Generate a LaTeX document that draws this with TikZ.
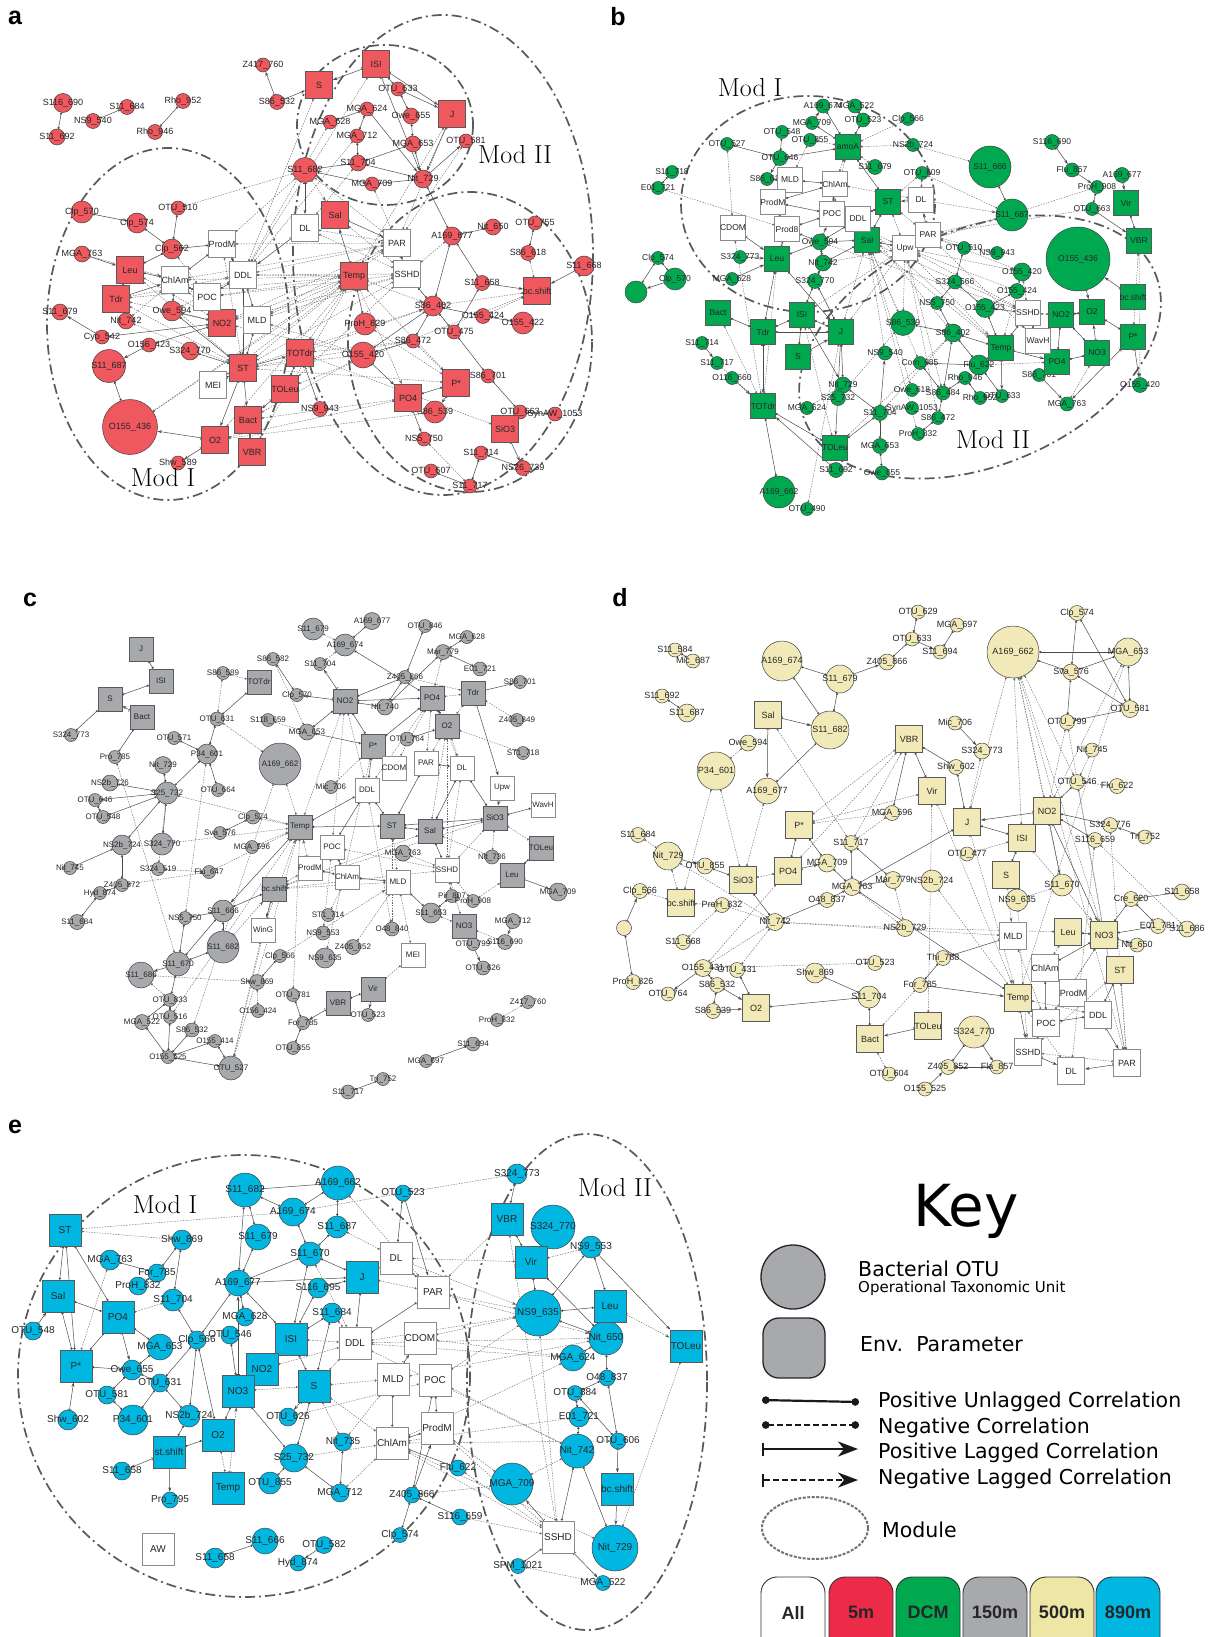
\documentclass[tikz,border=0pt]{standalone}
\usepackage{fontspec}
\usetikzlibrary{arrows.meta}
\newfontfamily\lblfont{Liberation Sans}
\newfontfamily\keyfont{DejaVu Sans}
\definecolor{redN}{RGB}{238,88,94}
\definecolor{redK}{RGB}{236,43,72}
\definecolor{grnN}{RGB}{0,168,80}
\definecolor{grayN}{RGB}{167,169,172}
\definecolor{ylwN}{RGB}{241,234,184}
\definecolor{ylwK}{RGB}{238,230,164}
\definecolor{cynN}{RGB}{0,183,226}
\pgfdeclarelayer{paper}
\pgfdeclarelayer{background}
\pgfsetlayers{paper,background,main}
\tikzset{
  otu/.style={circle, draw=black!75, line width=.5pt, fill=\pcol, inner sep=0pt, minimum size=#1},
  otu/.default=18,
  env/.style={rectangle, draw=black!65, line width=.7pt, fill=\pcol, inner sep=0pt, minimum size=\esz},
  envw/.style={rectangle, draw=black!45, line width=.9pt, fill=white, inner sep=0pt, minimum size=\esz},
  unlag/.style={draw=black!70, line width=.5pt, {Circle[length=2.2pt]}-{Circle[length=2.2pt]}},
  neglink/.style={draw=black!60, line width=.4pt, dash pattern=on 1.5pt off 1.2pt, {Circle[length=2pt]}-{Circle[length=2pt]}},
  poslag/.style={draw=black!70, line width=.5pt, {Bar[width=4pt]}-{Stealth[length=4.5pt,width=3pt]}},
  neglag/.style={draw=black!60, line width=.4pt, dash pattern=on 1.5pt off 1.2pt, {Bar[width=4pt]}-{Stealth[length=4.5pt,width=3pt]}},
  modring/.style={draw=black!65, line width=1.7pt, dash pattern=on 10pt off 4pt on 2pt off 4pt},
  modlbl/.style={font=\fontsize{26}{26}\selectfont, inner sep=0pt},
  panel/.style={font=\lblfont\bfseries\fontsize{25}{25}\selectfont, inner sep=0pt},
  keytxt/.style={font=\keyfont\fontsize{20.5}{20.5}\selectfont, anchor=base west, inner sep=0pt},
  keyline/.style={draw=black!90, line width=2.2pt},
  depthbox/.style={draw=black!80, line width=.9pt, rounded corners=16pt, minimum width=64, minimum height=80, inner sep=0pt},
}
\begin{document}
\catcode`\_=12
\begin{tikzpicture}[x=1pt,y=-1pt]
\useasboundingbox (0,0) rectangle (1208,1637);
\begin{pgfonlayer}{paper}
  \fill[white] (0,0) rectangle (1208,1637);
\end{pgfonlayer}

% ---------------- a : 5m
\begin{scope}[every label/.style={font=\lblfont\fontsize{9}{9}\selectfont, text=black!85, inner sep=0pt}]
\def\pcol{redN}\def\esz{27}
\node[panel] (alet) at (15,18) {a};
\foreach \n/\x/\y/\s in {Z417_760/263/65/14, S86_532/277/102/15, S116_690/63/103/19, S11_684/127/107/15,
  NS9_540/93/121/15, S11_692/57/137/16, Rho_952/183/101/15, Rho_946/155/132/15, Clp_570/82/212/22,
  Clp_574/137/223/20, OTU_510/178/208/14, Clp_562/172/249/20, MGA_763/82/254/16, S11_679/60/312/16,
  Owe_594/172/311/20, Nit_742/126/321/16, Cyo_542/102/337/14, O156_423/149/345/14, S324_770/190/351/18,
  Shw_589/178/463/14, NS9_943/320/409/15, OTU_633/398/89/14, MGA_624/367/109/14, Owe_655/411/116/16,
  MGA_628/330/122/14, MGA_712/357/136/14, MGA_653/413/144/16, OTU_581/466/141/14, S11_704/358/163/16,
  Nit_729/423/179/18, MGA_709/372/184/14, A169_677/452/236/18, Nit_650/493/227/16, OTU_755/535/223/14,
  S86_618/528/253/15, S11_668/584/266/20, S11_658/482/283/15, S86_402/433/306/20, O155_424/483/316/15,
  O155_422/523/323/22, ProH_829/365/324/22, OTU_475/454/332/14, S86_472/413/341/14, S86_701/488/376/14,
  S86_539/435/412/22, OTU_663/520/412/14, SynAW_1053/555/414/14, NS5_750/424/439/14, S11_714/481/453/14,
  NS26_739/523/468/15, OTU_607/431/471/14, S11_717/470/486/14, S11_682/305/170/25, S11_687/109/366/33,
  O155_436/130/427/55, O155_420/363/355/26}
  \node[otu=\s, label={center:\n}] (a\n) at (\x,\y) {};
\foreach \n/\x/\y in {S/319/85, ISI/376/64, J/452/114, Sal/335/215, Leu/130/270, Tdr/116/299, NO2/222/323,
  ST/243/368, TOTdr/300/353, TOLeu/285/389, Bact/248/420, O2/215/440, VBR/252/452, Temp/354/276,
  P*/456/383, PO4/408/398, SiO3/505/429}
  \node[env, label={center:\n}] (a\n) at (\x,\y) {};
\node[env, label={center:bc.shift}] (abcshift) at (537,291) {};
\foreach \n/\x/\y in {ProdM/222/244, ChlAm/175/280, DDL/243/275, POC/207/297, DL/305/228, MLD/257/320,
  MEI/213/385, PAR/397/243, SSHD/407/274}
  \node[envw, label={center:\n}] (a\n) at (\x,\y) {};
\node[modlbl] (amod1) at (163,478) {Mod I};
\node[modlbl] (amod2) at (515,155) {Mod II};
\begin{pgfonlayer}{background}
\draw[modring] (168,324) ellipse [x radius=121, y radius=176];
\draw[modring] (385,125) ellipse [x radius=88, y radius=80];
\draw[modring] (470,342) ellipse [x radius=122, y radius=150];
\draw[modring] (443,255) ellipse [x radius=150, y radius=240];
\foreach \u/\v in {S116_690/S11_692, S11_684/NS9_540, Rho_952/Rho_946, Clp_570/Clp_574, Clp_574/Clp_562,
  OTU_510/Clp_562, Leu/Tdr, Leu/Clp_562, Clp_562/ProdM, ChlAm/ProdM, ProdM/DDL, ChlAm/POC, POC/DDL,
  Owe_594/ChlAm, Owe_594/NO2, O156_423/NO2, Cyo_542/NO2, S324_770/ST, S11_687/O155_436, Bact/VBR,
  ISI/OTU_633, OTU_633/Owe_655, Owe_655/MGA_653, MGA_624/MGA_712, MGA_624/MGA_628, MGA_653/S11_704,
  MGA_653/Nit_729, S11_682/S11_704, S11_682/MGA_709, MGA_709/Nit_729, Nit_729/A169_677, A169_677/Nit_650,
  OTU_755/S86_618, S11_658/A169_677, S86_402/O155_424, O155_424/O155_422, OTU_475/S86_701,
  S86_701/OTU_663, OTU_663/SynAW_1053, S11_714/S11_717, S11_714/NS26_739, OTU_607/S11_717,
  S86_402/S86_472, S86_472/O155_420, S86_402/O155_420, PO4/P*, S11_658/OTU_475, S86_402/OTU_475,
  MGA_712/S11_704, S11_704/Nit_729, Temp/ProH_829, DDL/ST, MLD/ST, Owe_594/ST, TOTdr/TOLeu, Leu/ChlAm,
  DDL/MLD, SSHD/S86_402, A169_677/S86_402}
  \draw[unlag] (a\u) -- (a\v);
\foreach \u/\v in {S86_532/Z417_760, S86_532/S, ISI/S, ISI/J, OTU_633/J, MGA_624/Nit_729, J/Nit_729,
  Nit_729/OTU_581, ISI/Nit_729, S11_682/DL, MGA_763/Leu, Tdr/ChlAm, Cyo_542/S11_679, O156_423/S11_687,
  O2/O155_436, O2/Shw_589, ST/O2, ST/Bact, TOTdr/NS9_943, TOLeu/Bact, Sal/PAR, Temp/Sal,
  S11_668/bcshift, S11_658/bcshift, PO4/NS5_750, O155_420/PO4, P*/S86_539, SiO3/NS26_739, MEI/ST,
  PAR/SSHD, ST/TOTdr, DL/DDL}
  \draw[poslag] (a\u) -- (a\v);
\foreach \u/\v in {OTU_510/S11_682, DDL/Temp, POC/Temp, ChlAm/PAR, NO2/Temp, ST/Temp, MLD/PAR, MLD/SSHD,
  TOLeu/SSHD, TOTdr/Temp, ST/O155_420, Bact/PO4, O2/PO4, NO2/SSHD, MLD/Temp, ProdM/PAR, S/DDL, ISI/DDL,
  J/Temp, ST/P*, TOTdr/S86_472, Tdr/Temp, O155_436/PAR, O155_436/Temp, MGA_628/DDL, DL/PAR, NO2/PAR,
  ChlAm/Temp, TOLeu/bcshift, Bact/O155_420, TOTdr/SiO3, O2/S86_539, POC/SSHD, DDL/SSHD, ST/SSHD,
  Leu/NO2, Tdr/NO2, Owe_594/DDL, Nit_742/ChlAm, Nit_742/ST, S11_682/ProdM, Leu/ST, ProdM/ST, O2/Temp,
  VBR/Temp, MGA_712/DDL, S11_704/DL, MGA_709/PAR, S86_618/bcshift, S86_402/bcshift, O155_424/bcshift,
  SSHD/A169_677, Temp/P*, ProH_829/P*, S86_472/P*, SSHD/OTU_475, MLD/O155_420, DDL/PAR, NO2/O155_420,
  MEI/Temp, Sal/SSHD, DL/SSHD, NS5_750/S11_717, OTU_581/PAR, J/PAR, S11_682/PAR, Tdr/ST, Clp_562/POC,
  ChlAm/NO2}
  \draw[neglink] (a\u) -- (a\v);
\foreach \u/\v in {ST/S86_402, Temp/PO4, TOTdr/S86_402, Temp/S86_402, ST/S86_472, S11_682/Sal,
  MGA_763/ChlAm, Tdr/DDL}
  \draw[neglag] (a\u) -- (a\v);
\end{pgfonlayer}
\end{scope}

% ---------------- b : DCM
\begin{scope}[every label/.style={font=\lblfont\fontsize{8.5}{8.5}\selectfont, text=black!85, inner sep=0pt}]
\def\pcol{grnN}\def\esz{25}
\node[panel] (blet) at (618,17) {b};
\foreach \n/\x/\y/\s in {A169_674/823/106/14, MGA_522/855/106/14, MGA_709/812/123/13, OTU_523/863/120/14,
  OTU_548/782/132/13, OTU_855/810/140/13, OTU_527/727/144/13, OTU_646/780/158/15, S11_718/672/172/13,
  S86_618/767/179/13, S11_679/875/167/15, E01_721/658/188/13, Owe_594/820/242/16, Clp_574/658/258/13,
  S324_773/740/257/13, Nit_742/823/263/16, Clp_570/675/279/22, MGA_628/732/279/13, S324_770/815/281/15,
  S11_714/702/343/13, NS9_540/885/353/14, S11_717/717/363/13, O116_660/732/378/13, Nit_729/843/385/16,
  S25_732/838/398/15, MGA_624/807/408/13, S11_704/880/413/15, MGA_653/880/446/15, S11_692/836/470/15,
  Owe_655/882/473/14, OTU_490/807/509/13, Clp_566/908/119/13, NS2b_724/913/145/13, S116_690/1052/142/15,
  OTU_609/922/173/13, Flu_857/1072/170/14, A169_677/1122/175/15, ProH_908/1097/187/13, OTU_663/1092/209/13,
  OTU_510/964/248/13, NS9_943/997/253/13, O155_420/1022/272/18, S324_566/955/282/14, O155_424/1017/291/15,
  NS5_750/937/303/13, O155_423/985/308/19, S86_402/953/333/18, Com_985/920/363/13, Flu_622/979/365/20,
  Rho_946/965/378/13, S86_701/1039/375/13, Owe_618/912/390/13, S86_484/943/393/14, Rho_952/980/398/13,
  OTU_633/1002/396/13, MGA_763/1067/404/14, SynAW_1053/912/408/13, S86_472/938/418/13, ProH_832/918/434/13,
  S86_539/903/323/25, A169_662/779/492/32, S11_666/990/167/42, S11_687/1012/215/32, O155_436/1078/259/64}
  \node[otu=\s, label={center:\n}] (b\n) at (\x,\y) {};
\node[otu=15, label={center:O155_420}] (bO155_420x) at (1140,385) {};
\node[otu=22] (bunl) at (636,292) {};
\foreach \n/\x/\y in {amoA/848/147, ST/888/202, Sal/867/240, Leu/777/259, Bact/718/313, ISI/802/315,
  Tdr/763/332, J/841/332, S/798/357, TOTdr/763/406, TOLeu/835/448, Vir/1126/203, VBR/1139/241,
  NO2/1061/315, O2/1092/312, P*/1133/337, Temp/1001/348, NO3/1097/353, PO4/1057/362}
  \node[env, label={center:\n}] (b\n) at (\x,\y) {};
\node[env, label={center:bc.shift}] (bbcshift) at (1133,297) {};
\foreach \n/\x/\y in {MLD/790/180, ChlAm/835/184, ProdM/773/202, POC/832/214, DDL/858/219, CDOM/733/228,
  Prod8/787/229, Upw/905/248, DL/921/200, PAR/928/235, SSHD/1028/313, WavH/1038/341}
  \node[envw, label={center:\n}] (b\n) at (\x,\y) {};
\node[modlbl] (bmod1) at (750,88) {Mod I};
\node[modlbl] (bmod2) at (993,440) {Mod II};
\begin{pgfonlayer}{background}
\draw[modring] (808,204) ellipse [x radius=127, y radius=108];
\draw[modring, rotate around={23:(980,347)}] (980,347) ellipse [x radius=190, y radius=118];
\foreach \u/\v in {A169_674/amoA, MGA_709/amoA, MGA_522/OTU_523, OTU_523/amoA, OTU_548/OTU_646,
  OTU_646/amoA, OTU_527/OTU_646, S11_718/E01_721, MLD/ChlAm, ChlAm/POC, ProdM/POC, ProdM/Prod8, POC/Prod8,
  POC/DDL, Prod8/Owe_594, Owe_594/Sal, DDL/ST, ST/Sal, Leu/Owe_594, Leu/Tdr, Nit_742/S324_770,
  S324_770/ISI, S324_770/J, ISI/J, ISI/S, Tdr/Bact, J/Nit_729, Nit_729/S25_732, TOTdr/A169_662,
  TOTdr/TOLeu, TOLeu/S11_704, S11_704/MGA_653, MGA_653/Owe_655, Clp_574/unl, Clp_574/Clp_570,
  S11_666/S11_687, ProH_908/OTU_663, Vir/VBR, O2/NO2, NO2/PO4, NO2/NO3, NO3/PO4, O2/P*, Temp/SSHD,
  Temp/S86_402, S86_402/S86_484, S86_484/S86_472, S86_472/ProH_832, Com_985/S86_484, Flu_622/S86_402,
  Rho_946/S86_484, O155_423/S324_566, O155_423/O155_424, S324_566/NS5_750, NS5_750/S86_402,
  S86_539/S86_402, S324_566/OTU_510, Flu_622/OTU_633, Rho_946/Rho_952, amoA/ST, ChlAm/ProdM, DDL/Owe_594,
  Sal/Upw, ISI/Tdr, Temp/O155_423, O155_423/SSHD, Tdr/J, Leu/J, Owe_594/Nit_742, Nit_742/Sal,
  Com_985/Flu_622, S11_704/Nit_729}
  \draw[unlag] (b\u) -- (b\v);
\foreach \u/\v in {OTU_646/S86_618, Tdr/TOTdr, ISI/Nit_729, S11_714/S11_717, O116_660/TOTdr,
  S11_692/TOTdr, Clp_570/unl, S116_690/Flu_857, Flu_857/ProH_908, A169_677/Vir, OTU_663/VBR,
  O155_436/O2, bcshift/O155_436, P*/O155_420x, P*/MGA_763, S86_701/MGA_763, Temp/OTU_633, Temp/PO4,
  CDOM/Leu, S324_773/Leu, MGA_628/Leu, J/TOLeu, S/J, PAR/DL, DL/ST, NO3/O2, Owe_594/POC,
  MGA_709/A169_674, S11_704/NS9_540}
  \draw[poslag] (b\u) -- (b\v);
\foreach \u/\v in {amoA/Clp_566, amoA/NS2b_724, amoA/POC, amoA/ChlAm, amoA/S11_679, E01_721/Prod8,
  OTU_527/CDOM, OTU_490/J, Leu/TOTdr, CDOM/TOTdr, ISI/TOLeu, NS2b_724/S11_666, OTU_609/S11_687,
  DL/OTU_609, VBR/P*, SSHD/NO2, SSHD/O155_420, Upw/O155_420, Upw/O155_424, PAR/S11_687, PAR/O155_420,
  DDL/Temp, Sal/SSHD, Sal/Temp, ST/PAR, ST/Upw, Upw/SSHD, Owe_594/SSHD, DDL/S86_402, Sal/S86_539,
  POC/Upw, ChlAm/DL, Temp/O155_420, Temp/Flu_622, PO4/Flu_622, WavH/SSHD, NO3/MGA_763, PO4/S86_701,
  Upw/J, Sal/J, S86_539/Upw, ST/OTU_609, OTU_510/PAR, NS9_943/PAR, Prod8/Leu, TOLeu/S86_402,
  S25_732/S86_539, S11_704/S86_402, Nit_742/Upw, ISI/Upw, PAR/OTU_663, Upw/ProH_908, MGA_624/Nit_729,
  Owe_618/Sal, S86_484/Upw, Com_985/DDL, ProH_832/Sal, S86_472/Upw, NS9_540/Sal, OTU_855/MLD,
  S86_618/MLD, OTU_855/amoA, Bact/TOTdr}
  \draw[neglink] (b\u) -- (b\v);
\foreach \u/\v in {S11_717/TOTdr, PAR/WavH, Upw/Temp, VBR/O155_420x, DL/S11_687}
  \draw[neglag] (b\u) -- (b\v);
\end{pgfonlayer}
\end{scope}

% ---------------- c : 150m
\begin{scope}[every label/.style={font=\lblfont\fontsize{8}{8}\selectfont, text=black!85, inner sep=0pt}]
\def\pcol{grayN}\def\esz{24}
\node[panel] (clet) at (30,600) {c};
\foreach \n/\x/\y/\s in {S324_773/71/735/13, S86_582/273/659/13, S86_589/223/673/13, Clp_570/297/695/13,
  OTU_631/217/719/14, S118_659/268/720/13, MGA_653/307/732/16, OTU_571/174/738/13, Pro_785/115/757/13,
  P34_601/207/754/20, Nit_729/163/765/17, NS2b_726/110/783/16, S25_732/167/793/22, OTU_646/95/800/13,
  OTU_664/218/790/13, OTU_548/103/817/13, Clp_574/253/817/14, Sva_576/220/833/13, NS2b_724/122/845/20,
  S324_770/162/844/22, MGA_596/252/847/13, Nit_745/70/868/13, S324_519/158/869/13, Flu_647/209/872/13,
  Z405_872/122/885/13, Hyd_874/100/893/13, S11_666/223/911/22, NS5_750/185/918/13, S11_684/77/922/15,
  Clp_566/280/956/13, S11_670/178/964/24, S11_686/141/975/26, Shw_869/257/982/15, OTU_781/293/995/13,
  OTU_833/170/1000/13, O156_424/258/1011/13, MGA_522/142/1022/15, OTU_516/170/1017/13, For_785/303/1023/13,
  S86_532/192/1030/14, O155_414/215/1041/13, OTU_855/293/1048/13, O155_525/168/1057/13, OTU_527/231/1068/24,
  S11_679/313/629/22, A169_677/372/621/17, A169_674/345/645/22, OTU_846/425/626/13, MGA_628/467/637/13,
  Mar_779/443/652/15, S11_704/320/664/13, Z405_866/405/677/13, E01_721/480/669/14, S86_701/520/682/13,
  Nit_740/385/707/16, Z405_849/517/720/13, OTU_764/407/739/14, ST1_718/523/753/13, Mic_706/331/787/13,
  MGA_763/403/853/16, Nit_736/492/857/14, MGA_709/558/892/18, Pir_807/452/896/13, ProH_908/473/901/13,
  S11_653/431/913/20, ST1_714/328/915/13, O48_840/392/929/14, NS9_553/323/933/14, MGA_712/513/921/15,
  Z405_852/353/947/15, S116_690/505/942/15, OTU_799/473/944/13, NS9_635/325/958/20, OTU_626/483/968/14,
  OTU_523/368/1015/13, Z417_760/528/1002/13, ProH_832/497/1020/13, S11_694/473/1044/14,
  MGA_697/426/1061/13, Tri_752/383/1079/13, S11_717/348/1092/14, A169_662/280/764/42, S11_682/223/947/32}
  \node[otu=\s, label={center:\n}] (c\n) at (\x,\y) {};
\foreach \n/\x/\y in {J/141/649, ISI/161/681, S/110/699, Bact/142/717, TOTdr/259/682, Temp/300/827,
  Tdr/473/693, NO2/345/701, PO4/432/698, O2/447/726, P*/373/746, ST/392/826, Sal/430/831, SiO3/495/818,
  TOLeu/541/848, Leu/512/875, NO3/464/926, Vir/373/989, VBR/338/1003}
  \node[env, label={center:\n}] (c\n) at (\x,\y) {};
\node[env, label={center:bc.shift}] (cbcshift) at (274,889) {};
\foreach \n/\x/\y in {ProdM/310/868, WinG/263/930, CDOM/394/768, PAR/426/763, DL/462/768, Upw/502/788,
  DDL/367/790, WavH/543/805, POC/332/847, ChlAm/347/877, MLD/398/882, SSHD/447/870, MEI/413/955}
  \node[envw, label={center:\n}] (c\n) at (\x,\y) {};
\begin{pgfonlayer}{background}
\foreach \u/\v in {J/ISI, ISI/S, S/S324_773, Bact/Pro_785, S86_582/Clp_570, TOTdr/OTU_631,
  OTU_631/P34_601, OTU_571/P34_601, P34_601/S25_732, P34_601/OTU_664, Nit_729/S25_732, NS2b_726/S25_732,
  OTU_646/S25_732, OTU_646/OTU_548, OTU_548/S25_732, S25_732/S324_770, S25_732/NS2b_724,
  NS2b_724/Nit_745, NS2b_724/Z405_872, Hyd_874/S11_684, Clp_574/Sva_576, S11_666/S11_682,
  S11_666/NS5_750, S11_666/S11_670, S11_666/bcshift, NS5_750/S11_670, S11_670/S11_682, OTU_833/OTU_516,
  OTU_833/MGA_522, MGA_522/O155_525, OTU_516/O155_525, S86_532/O155_525, O155_525/O155_414,
  O155_414/OTU_527, O155_525/OTU_527, Clp_566/Shw_869, OTU_781/For_785, For_785/OTU_855,
  A169_677/A169_674, A169_674/PO4, OTU_846/Z405_866, Mar_779/MGA_628, Mar_779/E01_721, Mar_779/Nit_740,
  NO2/Nit_740, NO2/PO4, NO2/P*, Z405_866/NO2, Z405_866/Nit_740, PO4/O2, PO4/P*, O2/OTU_764, P*/DDL,
  P*/MGA_653, PAR/ST, DL/SiO3, DL/Sal, SiO3/WavH, SiO3/Sal, SiO3/ST, ST/Sal, ST/DDL, TOLeu/Leu,
  MLD/ChlAm, ChlAm/ProdM, POC/ChlAm, DDL/POC, S11_653/Pir_807, Vir/VBR, S11_694/MGA_697,
  Tri_752/S11_717, Temp/DDL, Temp/ST, PAR/DL, Sal/SSHD, MLD/S11_653, NO2/MGA_653, S11_670/OTU_833,
  Z405_872/Hyd_874}
  \draw[unlag] (c\u) -- (c\v);
\foreach \u/\v in {Temp/S11_666, Tdr/S86_701, Tdr/Upw, NO2/S11_704, NO2/Clp_570, Vir/OTU_523,
  VBR/For_785, bcshift/WinG, Leu/MGA_709, NO3/OTU_626, MGA_712/S116_690, Upw/SiO3, P*/CDOM,
  S11_670/S11_686, Bact/S}
  \draw[poslag] (c\u) -- (c\v);
\foreach \u/\v in {OTU_631/A169_662, OTU_631/S86_589, S86_589/TOTdr, Pro_785/S11_670, P34_601/NS5_750,
  S324_519/Flu_647, Z405_872/Flu_647, Tdr/Z405_849, Tdr/Z405_866, O2/ST1_718, Z417_760/ProH_832,
  SiO3/Nit_736, SiO3/TOLeu, Leu/ProH_908, MEI/Vir, MEI/MLD, NO3/S116_690, OTU_833/S11_686,
  Shw_869/S11_686, Shw_869/O156_424, OTU_527/bcshift, OTU_527/WinG, OTU_527/Temp, S86_532/A169_662,
  OTU_516/Temp, Temp/A169_662, Temp/S324_770, Temp/S25_732, bcshift/SSHD, bcshift/MLD, bcshift/SiO3,
  bcshift/ProdM, bcshift/Sal, NO2/DDL, NO2/Temp, NO2/POC, PO4/CDOM, PO4/PAR, PO4/DL, PO4/DDL, O2/PAR,
  O2/DL, O2/Sal, O2/SSHD, Tdr/PO4, Tdr/O2, MGA_763/SSHD, SSHD/SiO3, SSHD/NO3, ST1_714/ChlAm,
  NS9_553/POC, Z405_852/MLD, NS9_635/P*, OTU_781/Temp, Mic_706/P*, DL/SSHD, Mar_779/PO4,
  S11_679/A169_674, S118_659/MGA_653, S86_582/MGA_653, Clp_574/Temp, MGA_596/Temp, Sal/Nit_736,
  ST/MLD, POC/SSHD, O48_840/ST, O48_840/DDL, S11_653/NO3, Pir_807/SSHD, ProH_908/SSHD,
  S11_704/A169_674, S324_519/S25_732, Flu_647/Temp}
  \draw[neglink] (c\u) -- (c\v);
\foreach \u/\v in {ProdM/Temp, WinG/Temp, S11_682/bcshift, Clp_566/MLD}
  \draw[neglag] (c\u) -- (c\v);
\end{pgfonlayer}
\end{scope}

% ---------------- d : 500m
\begin{scope}[every label/.style={font=\lblfont\fontsize{9}{9}\selectfont, text=black!85, inner sep=0pt}]
\def\pcol{ylwN}\def\esz{27}
\node[panel] (dlet) at (620,598) {d};
\foreach \n/\x/\y/\s in {S11_584/675/650/14, Mic_687/693/661/14, S11_692/662/696/14, S11_687/687/713/18,
  Z405_866/887/662/16, Owe_594/748/743/16, MGA_596/892/813/15, S11_684/638/835/15, S11_717/851/843/15,
  OTU_855/705/866/16, MGA_709/827/863/18, Mar_779/893/880/17, MGA_763/852/887/17, Clp_566/640/891/15,
  ProH_832/722/905/15, O48_837/827/900/15, Nit_742/775/922/17, S11_668/683/942/15, O155_431/703/968/17,
  OTU_431/737/970/15, OTU_523/875/963/15, Shw_869/815/973/20, ProH_826/633/982/15, S86_532/717/985/15,
  OTU_764/668/994/14, S11_704/869/997/22, S86_539/713/1011/15, OTU_604/889/1074/14, OTU_629/918/612/14,
  OTU_633/912/639/14, MGA_697/957/625/14, S11_694/940/652/14, Clp_574/1077/613/15, Sva_576/1071/672/16,
  OTU_581/1130/709/17, OTU_799/1067/722/15, Mic_706/955/723/14, S324_773/982/751/16, Nit_745/1092/750/14,
  Shw_602/956/767/15, OTU_546/1077/782/15, Flu_622/1117/786/15, S324_776/1110/825/15, Tri_752/1145/837/14,
  S116_659/1095/840/15, OTU_477/967/854/14, NS2b_724/932/881/22, S11_670/1062/885/22, NS9_635/1017/900/22,
  Cre_620/1131/899/15, S11_658/1182/892/16, NS2b_729/905/928/17, E01_781/1158/926/15, S11_686/1187/929/16,
  Nit_650/1137/945/14, Thi_788/943/958/15, For_785/920/985/15, Z405_852/948/1067/15, Fla_857/997/1067/14,
  O155_525/925/1089/14, A169_674/782/661/40, S11_679/840/679/28, S11_682/830/730/38, P34_601/716/771/38,
  A169_677/767/791/26, Nit_729/668/856/28, A169_662/1013/652/52, MGA_653/1128/652/28, S324_770/974/1032/32}
  \node[otu=\s, label={center:\n}] (d\n) at (\x,\y) {};
\node[otu=15] (dunl) at (624,928) {};
\foreach \n/\x/\y in {Sal/768/715, P*/799/825, SiO3/743/880, PO4/788/871, O2/756/1008, Bact/870/1039,
  VBR/909/739, Vir/932/791, NO2/1047/811, J/967/822, ISI/1022/838, S/1006/875, Leu/1068/932,
  NO3/1104/935, ST/1120/970, Temp/1018/998, TOLeu/928/1026}
  \node[env, label={center:\n}] (d\n) at (\x,\y) {};
\node[env, label={center:bc.shift}] (dbcshift) at (681,903) {};
\foreach \n/\x/\y in {MLD/1013/936, ChlAm/1045/968, ProdM/1073/993, DDL/1098/1015, POC/1046/1023,
  SSHD/1028/1052, PAR/1127/1063, DL/1071/1071}
  \node[envw, label={center:\n}] (d\n) at (\x,\y) {};
\begin{pgfonlayer}{background}
\foreach \u/\v in {S11_584/Mic_687, S11_692/S11_687, A169_674/S11_679, A169_674/S11_682,
  S11_679/S11_682, OTU_629/OTU_633, MGA_697/S11_694, S11_682/A169_677, P*/PO4, P*/MGA_709,
  MGA_709/MGA_763, S11_717/MGA_763, MGA_763/Mar_779, MGA_763/O48_837, O48_837/Nit_742, SiO3/Nit_742,
  SiO3/OTU_855, O155_431/S86_532, S86_532/S86_539, OTU_431/O2, ProH_826/unl, Shw_869/S11_704,
  S11_704/Bact, VBR/MGA_596, VBR/Vir, VBR/Shw_602, Shw_602/J, J/ISI, ISI/S, A169_662/Sva_576,
  Sva_576/MGA_653, Clp_574/Sva_576, Clp_574/OTU_581, Sva_576/OTU_799, Sva_576/OTU_581, MGA_653/OTU_581,
  OTU_799/OTU_581, NO2/OTU_546, NO2/S324_776, NO2/S116_659, Cre_620/S11_658, Cre_620/NO3,
  Cre_620/E01_781, E01_781/NO3, NO3/Leu, NO3/ChlAm, Thi_788/For_785, ChlAm/ProdM, ProdM/DDL, DDL/POC,
  POC/ChlAm, S324_770/Z405_852, Z405_852/Fla_857, S11_717/Mar_779, OTU_633/Z405_866, ST/DDL,
  MGA_763/Temp, S11_704/O2, J/MGA_763, MGA_653/A169_662}
  \draw[unlag] (d\u) -- (d\v);
\foreach \u/\v in {S11_679/Z405_866, OTU_633/S11_694, Sal/S11_682, Sal/A169_677, PO4/MGA_709,
  Nit_729/OTU_855, unl/Clp_566, O155_431/OTU_764, S86_539/O2, S86_532/O2, Mic_706/S324_773, NO2/J,
  NO2/ISI, NO2/S11_670, Tri_752/S324_776, NO2/NO3, NO3/Nit_650, MLD/Thi_788, For_785/Temp, TOLeu/Bact,
  Temp/SSHD, SSHD/DL, DDL/PAR, PAR/DL, S324_770/Fla_857, O155_525/Z405_852}
  \draw[poslag] (d\u) -- (d\v);
\foreach \u/\v in {Owe_594/P34_601, Sal/S11_717, P34_601/SiO3, P34_601/bcshift, A169_677/SiO3,
  S11_684/Nit_729, Clp_566/bcshift, bcshift/ProH_832, ProH_832/S11_668, PO4/SiO3, Nit_742/O155_431,
  Nit_742/OTU_431, Nit_742/Nit_729, PO4/O155_431, VBR/P*, VBR/S11_717, MGA_596/S11_717, S324_773/J,
  A169_662/NO2, A169_662/ISI, A169_662/J, A169_662/S11_670, A169_662/NO3, A169_662/OTU_546, OTU_799/NO2,
  OTU_546/Nit_745, OTU_546/Flu_622, OTU_799/PAR, OTU_546/PAR, MGA_653/NO2, MGA_653/Temp, OTU_477/ISI,
  S11_670/NS9_635, S116_659/S11_686, ST/PAR, Temp/DDL, Temp/POC, Temp/DL, SSHD/PAR, MLD/POC,
  Leu/ChlAm, NO3/POC, NO3/SSHD, ST/SSHD, OTU_604/Bact, Bact/For_785, NS2b_729/Nit_742, NS2b_729/Leu,
  Mar_779/NS2b_729, NS2b_724/Temp, Vir/TOLeu, Vir/P*, OTU_523/O155_431, Nit_742/MLD, MGA_763/NS2b_729,
  A169_662/PAR, VBR/PO4, MGA_596/P*, S324_776/PAR, S116_659/DL, Nit_729/bcshift}
  \draw[neglink] (d\u) -- (d\v);
\foreach \u/\v in {J/Temp, Vir/Temp, ISI/NO3, S/MLD, NS9_635/SSHD, ProH_832/Nit_742}
  \draw[neglag] (d\u) -- (d\v);
\end{pgfonlayer}
\end{scope}

% ---------------- e : 890m
\begin{scope}[every label/.style={font=\lblfont\fontsize{10}{10}\selectfont, text=black!85, inner sep=0pt}]
\def\pcol{cynN}\def\esz{32}
\node[panel] (elet) at (15,1127) {e};
\foreach \n/\x/\y/\s in {Shw_869/182/1240/20, MGA_763/110/1260/20, For_785/157/1273/18,
  ProH_832/138/1286/18, S11_704/173/1300/22, MGA_628/245/1317/18, S11_684/332/1313/20, OTU_548/33/1331/18,
  Clp_566/197/1340/18, OTU_546/230/1335/18, Owe_655/132/1370/20, OTU_631/160/1383/18, OTU_581/107/1395/18,
  Shw_602/68/1420/20, NS2b_724/189/1416/22, OTU_626/288/1417/18, Nit_735/343/1442/18, S11_658/122/1471/18,
  OTU_855/270/1483/22, MGA_712/340/1493/18, Pro_795/170/1500/16, S11_666/265/1541/26, OTU_582/324/1545/17,
  Hyd_874/298/1563/16, S324_773/517/1174/20, OTU_523/403/1193/16, NS9_553/591/1247/22, O48_837/607/1378/16,
  OTU_884/575/1393/15, E01_721/579/1417/20, OTU_606/618/1441/16, Flu_622/458/1468/16, Z405_866/412/1495/16,
  S116_659/460/1517/16, Clp_574/400/1535/15, SPM_1021/518/1566/15, MGA_522/603/1583/15,
  S116_695/318/1288/20, S11_682/245/1190/34, A169_662/338/1183/34, A169_674/293/1212/28,
  S11_687/337/1227/22, S11_679/258/1237/26, S11_670/310/1254/24, A169_677/238/1283/26,
  MGA_653/160/1347/26, P34_601/133/1420/30, S25_732/294/1458/28, S324_770/553/1227/44,
  NS9_635/538/1313/46, Nit_650/606/1338/34, MGA_624/573/1358/26, Nit_742/577/1451/34,
  MGA_709/512/1484/42, Nit_729/615/1548/46}
  \node[otu=\s, label={center:\n}] (e\n) at (\x,\y) {};
\node[otu=20, label={center:S11_658}] (eS11_658b) at (215,1558) {};
\foreach \n/\x/\y in {ST/65/1230, Sal/58/1296, PO4/118/1317, P*/76/1366, J/362/1277, ISI/291/1339,
  NO2/262/1369, NO3/238/1391, S/314/1386, O2/218/1435, Temp/228/1488, VBR/507/1219, Vir/531/1262,
  Leu/610/1306, TOLeu/686/1346}
  \node[env, label={center:\n}] (e\n) at (\x,\y) {};
\node[env, label={center:st.shift}] (estshift) at (169,1452) {};
\node[env, label={center:bc.shift}] (ebcshift) at (617,1489) {};
\foreach \n/\x/\y in {AW/158/1549, DDL/355/1343, DL/396/1258, PAR/433/1292, CDOM/420/1338, MLD/393/1379,
  POC/435/1380, ProdM/437/1428, ChlAm/392/1443, SSHD/558/1537}
  \node[envw, label={center:\n}] (e\n) at (\x,\y) {};
\node[modlbl] (emod1) at (165,1205) {Mod I};
\node[modlbl] (emod2) at (615,1188) {Mod II};
\begin{pgfonlayer}{background}
\draw[modring] (244,1376) ellipse [x radius=226, y radius=221];
\draw[modring] (587,1382) ellipse [x radius=120, y radius=248];
\foreach \u/\v in {ST/Sal, ST/P*, Sal/P*, P*/PO4, PO4/MGA_653, Owe_655/MGA_653, Owe_655/OTU_581,
  OTU_581/P34_601, OTU_631/P34_601, OTU_631/Clp_566, MGA_763/For_785, For_785/Shw_869, For_785/ProH_832,
  Shw_869/S11_704, S11_704/Clp_566, Clp_566/A169_677, Clp_566/NS2b_724, Clp_566/O2, NS2b_724/stshift,
  stshift/O2, O2/NO3, NO3/OTU_546, NO3/NO2, NO2/ISI, S/S25_732, S25_732/OTU_855, S25_732/MGA_712,
  MGA_712/Nit_735, A169_677/S11_682, A169_677/S11_679, A169_677/J, A169_677/ISI, A169_677/S11_670,
  S11_682/A169_662, S11_682/A169_674, A169_674/A169_662, A169_674/S11_670, S11_687/S11_670,
  S11_687/A169_662, S11_670/J, S11_670/ISI, S116_695/ISI, S116_695/J, S11_684/S, S11_684/ISI,
  MGA_628/A169_677, S11_666/S11_658b, S324_773/VBR, VBR/Vir, Vir/NS9_635, Vir/Nit_650, S324_770/Vir,
  NS9_553/Leu, NS9_553/NS9_635, NS9_635/Leu, NS9_635/Nit_650, Nit_650/O48_837, O48_837/OTU_884,
  O48_837/OTU_606, OTU_884/E01_721, E01_721/Nit_742, OTU_884/OTU_606, Nit_742/Nit_729, SSHD/Nit_742,
  SSHD/SPM_1021, MGA_624/Nit_650, DL/PAR, MLD/ChlAm, POC/ProdM, ProdM/ChlAm, ChlAm/Flu_622,
  Z405_866/Clp_574, Z405_866/S116_659, POC/Z405_866, OTU_523/DL, PAR/DDL, ISI/S, NO3/S25_732, J/DDL,
  S11_679/S11_682, OTU_631/NS2b_724, Owe_655/OTU_631, ST/PO4, Sal/PO4, P*/Owe_655}
  \draw[unlag] (e\u) -- (e\v);
\foreach \u/\v in {OTU_548/Sal, Shw_602/P*, stshift/S11_658, stshift/Pro_795, OTU_582/Hyd_874,
  OTU_523/PAR, OTU_606/bcshift, bcshift/Nit_729, SSHD/MGA_709, SSHD/MGA_522, S/OTU_626,
  NO3/A169_677, PO4/Owe_655, Z405_866/ProdM, MLD/CDOM, NS9_553/TOLeu}
  \draw[poslag] (e\u) -- (e\v);
\foreach \u/\v in {ST/Shw_869, ST/A169_674, P*/MGA_763, PO4/S11_704, O2/Temp, Nit_735/S,
  SPM_1021/MGA_522, TOLeu/Nit_729, DDL/NS9_635, DDL/Nit_650, DDL/MGA_624, DDL/Nit_742, PAR/NS9_635,
  PAR/VBR, DL/Vir, CDOM/NS9_635, CDOM/MGA_624, POC/Nit_742, POC/NS9_635, MLD/Nit_650, ChlAm/SSHD,
  ChlAm/Nit_729, ProdM/SSHD, ProdM/MGA_709, S116_659/SSHD, Flu_622/SSHD, S/DDL, S/MLD, S/ChlAm,
  ISI/DDL, NO2/DDL, J/PAR, J/DL, S11_687/DL, A169_662/PAR, A169_674/OTU_523, S11_670/DDL, S11_684/DDL,
  MGA_712/ChlAm, Nit_735/MLD, NO3/S, OTU_626/POC, S25_732/ChlAm, VBR/SSHD, S324_773/OTU_523,
  Vir/NS9_553, NS9_635/SSHD, MGA_709/Nit_742, Z405_866/MGA_709, MGA_624/ChlAm, E01_721/ChlAm,
  OTU_606/ChlAm}
  \draw[neglink] (e\u) -- (e\v);
\foreach \u/\v in {Leu/TOLeu, Temp/NO3, PAR/Nit_650, DL/NS9_635}
  \draw[neglag] (e\u) -- (e\v);
\end{pgfonlayer}
\end{scope}

% ---------------- key
\node[font=\keyfont\fontsize{58}{58}\selectfont, anchor=base west, inner sep=0pt] (keyttl) at (913,1226) {Key};
\node[circle, draw=black!85, line width=1.3pt, fill=grayN, minimum size=64, inner sep=0pt] (kotu) at (793,1277) {};
\node[draw=black!85, line width=1.3pt, fill=grayN, rounded corners=16pt, minimum width=62, minimum height=60, inner sep=0pt] (kenv) at (794,1348) {};
\node[keytxt] (kotut) at (858,1276) {Bacterial OTU};
\node[keytxt, font=\keyfont\fontsize{15}{15}\selectfont] (kotus) at (858,1292) {Operational Taxonomic Unit};
\node[keytxt] (kenvt) at (860,1351) {Env.\ \ Parameter};
\node[keytxt] (kl1) at (878,1407) {Positive Unlagged Correlation};
\node[keytxt] (kl2) at (878,1433) {Negative Correlation};
\node[keytxt] (kl3) at (878,1458) {Positive Lagged Correlation};
\node[keytxt] (kl4) at (878,1484) {Negative Lagged Correlation};
\node[keytxt] (kmod) at (882,1537) {Module};
\coordinate (k1a) at (762,1400); \coordinate (k1b) at (859,1402);
\coordinate (k2a) at (762,1425); \coordinate (k2b) at (859,1425);
\coordinate (k3a) at (762,1449); \coordinate (k3b) at (858,1449);
\coordinate (k4a) at (762,1480); \coordinate (k4b) at (858,1480);
\draw[keyline, {Circle[length=7.5pt,width=7.5pt]}-{Circle[length=7.5pt,width=7.5pt]}] (k1a) -- (k1b);
\draw[keyline, dash pattern=on 6pt off 3pt, {Circle[length=7.5pt,width=7.5pt]}-{Circle[length=7.5pt,width=7.5pt]}] (k2a) -- (k2b);
\draw[keyline, {Bar[width=13pt]}-{Stealth[length=20pt,width=15pt,inset=6pt]}] (k3a) -- (k3b);
\draw[keyline, dash pattern=on 6pt off 3pt, {Bar[width=13pt]}-{Stealth[length=20pt,width=15pt,inset=6pt]}] (k4a) -- (k4b);
\draw[draw=black!55, line width=2pt, dash pattern=on 3pt off 1.5pt] (815,1528) ellipse [x radius=53, y radius=31];
\begin{scope}
\clip (720,1560) rectangle (1208,1637);
\foreach \n/\x/\c/\t in {all/793/white/All, m5/861/redK/5m, dcm/928/grnN/DCM, m150/995/grayN/150m,
  m500/1062/ylwK/500m, m890/1128/cynN/890m}
  \node[depthbox, fill=\c, font=\lblfont\bfseries\fontsize{18}{18}\selectfont, text=black!85] (k\n) at (\x,1617) {\raisebox{9pt}{\t}};
\end{scope}
\end{tikzpicture}
\end{document}
